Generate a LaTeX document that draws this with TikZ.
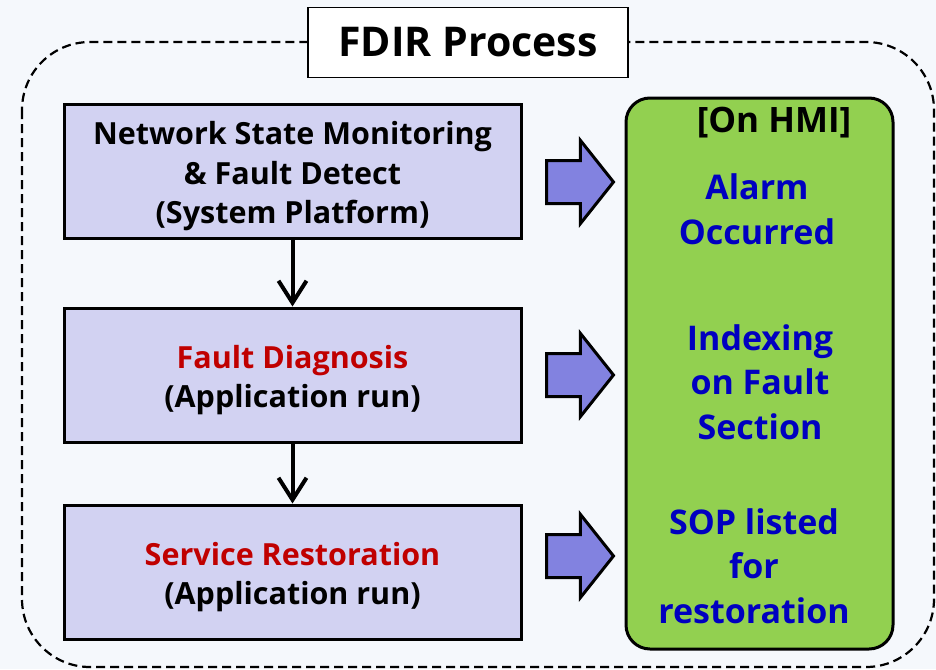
\documentclass[tikz,border=0pt]{standalone}
\usepackage{fontspec}
\setmainfont{Open Sans}
\usepackage{xcolor}
\usepackage{tikz}
\usetikzlibrary{arrows.meta,positioning,shapes.arrows}
\definecolor{fdBg}{HTML}{F5F8FC}
\definecolor{fdStep}{HTML}{D2D2F2}
\definecolor{fdHmi}{HTML}{92D050}
\definecolor{fdArrow}{HTML}{8282E0}
\definecolor{fdBlue}{HTML}{0000C0}
\definecolor{fdRed}{HTML}{C00000}
\newcommand{\fdStrut}{\rule{0pt}{33pt}}
\tikzset{
  stepbox/.style={rectangle,draw=black,line width=3pt,fill=fdStep,
    minimum width=457pt,minimum height=134pt,inner sep=0pt,
    align=center,font=\fontsize{30.5}{39.5}\selectfont\bfseries,text=black},
  hmibox/.style={rectangle,rounded corners=24pt,draw=black,line width=3pt,
    fill=fdHmi,minimum width=267pt,minimum height=551pt,inner sep=0pt},
  hmitxt/.style={align=center,font=\fontsize{34}{44.5}\selectfont\bfseries,
    text=fdBlue,inner sep=0pt},
  titlebox/.style={rectangle,draw=black,line width=1.5pt,fill=white,
    minimum width=320pt,minimum height=70pt,inner sep=0pt,
    font=\fontsize{41}{46}\selectfont\bfseries},
  blockarr/.style={single arrow,draw=black,line width=3pt,fill=fdArrow,
    text height=0pt,text depth=0pt,inner xsep=0pt,inner ysep=20pt,
    minimum height=67pt,single arrow head extend=20pt,
    single arrow tip angle=103,anchor=tail},
  flow/.style={-{Straight Barb[length=22pt,width=28pt,line width=4pt]},
    line width=4pt,color=black},
  frame/.style={draw=black,line width=2.2pt,dash pattern=on 9pt off 5pt,
    rounded corners=68pt},
}
\begin{document}
\begin{tikzpicture}[x=1pt,y=-1pt]
  \fill[fdBg] (0,0) rectangle (936,669);
  \useasboundingbox (0,0) rectangle (936,669);
  \draw[frame] (22,42) rectangle (934,667);

  \node[titlebox] (title) at (468,42.5) {FDIR Process};

  % steps on the system side
  \node[stepbox] (monitor) at (292.5,171.5)
    {\fdStrut Network State Monitoring\\\& Fault Detect\\(System Platform)};
  \node[stepbox] (diag) at (292.5,375)
    {\fdStrut\textcolor{fdRed}{Fault Diagnosis}\\(Application run)};
  \node[stepbox] (restore) at (292.5,572)
    {\fdStrut\textcolor{fdRed}{Service Restoration}\\(Application run)};

  \draw[flow] (monitor.south) -- (diag.north);
  \draw[flow] (diag.south) -- (restore.north);

  % what the operator sees
  \node[hmibox] (hmi) at (759.5,373.5) {};
  \node[font=\fontsize{35}{40}\selectfont\bfseries,inner sep=0pt]
    (onhmi) at (774,123) {[On HMI]};
  \node[hmitxt] (alarm) at (757,209) {Alarm\\Occurred};
  \node[hmitxt] (index) at (760,382) {Indexing\\on Fault\\Section};
  \node[hmitxt] (sop) at (754,566) {SOP listed\\for\\restoration};

  \foreach \y/\n in {182/one,375/two,556/three}
    \node[blockarr] (arr\n) at (545,\y) {};
\end{tikzpicture}
\end{document}
